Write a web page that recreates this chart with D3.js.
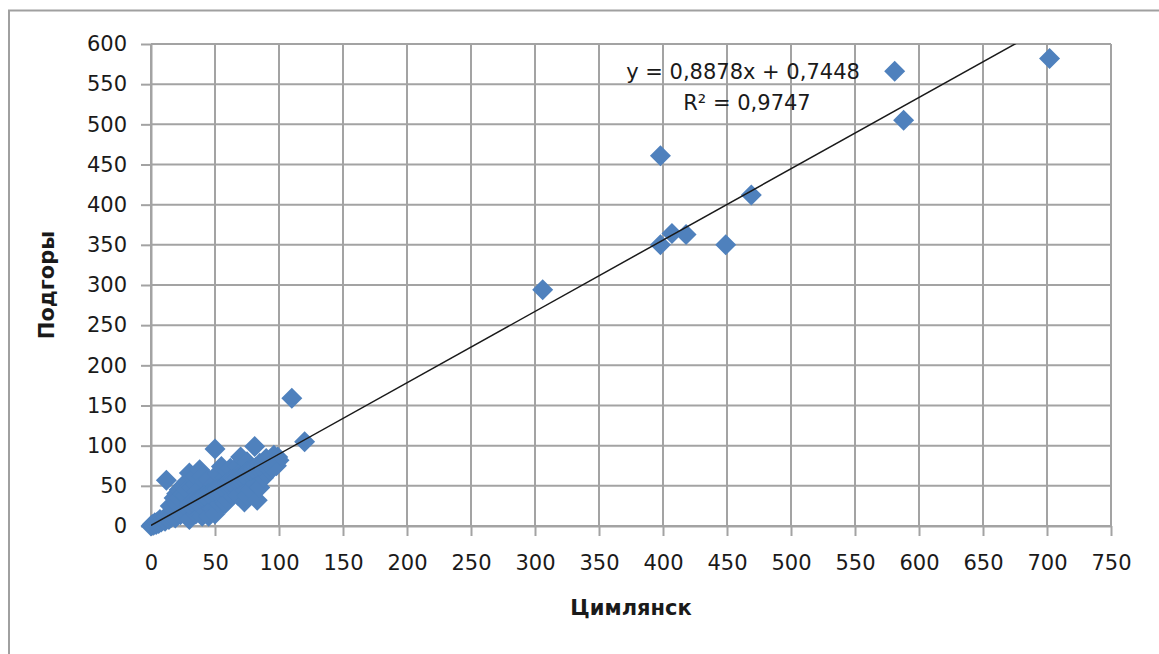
<!DOCTYPE html>
<html>
<head>
<meta charset="utf-8">
<script src="https://cdn.jsdelivr.net/npm/d3@7"></script>
<style>
  body { margin: 0; background: #fff; }
  svg text { font-family: "DejaVu Sans", sans-serif; fill: #1a1a1a; }
  .grid line { stroke: #a3a3a3; stroke-width: 2; }
  .axis path, .axis line { stroke: #a3a3a3; stroke-width: 2; }
</style>
</head>
<body>
<div id="chart"></div>
<script>
// Цимлянск (x) vs Подгоры (y)
var cimlyansk = [
  0, 1, 2, 3, 4, 5, 6, 7, 8, 9, 10, 11, 12, 13, 14, 15, 16, 17, 18, 19,
  20, 21, 22, 23, 24, 25, 26, 27, 28, 29,
  12, 15, 18, 20, 20, 22, 22, 25, 25, 27, 28, 28, 30, 32, 33, 35, 35, 36, 38, 40,
  42, 45, 48, 50, 52, 55, 58, 60, 62, 65, 68, 70, 72, 75, 78, 81, 85, 88, 90, 92,
  95, 96, 97, 99, 100, 98,
  30, 35, 40, 42, 45, 45, 48, 50, 50, 52, 55, 58, 60, 62, 65, 68, 70, 73, 75, 78,
  80, 83, 85, 88, 90, 93, 95,
  30, 32, 35, 38, 40, 42, 45, 48, 50, 52, 55, 58, 60, 62, 65, 68, 70, 72, 75, 78,
  80, 82, 85, 88, 90,
  110, 120, 306, 398, 398, 407, 418, 449, 469, 581, 588, 702
];
var podgory = [
  0, 2, 1, 4, 2, 5, 3, 8, 5, 7, 9, 6, 10, 12, 8, 13, 11, 15, 14, 10,
  18, 16, 20, 14, 22, 19, 24, 17, 26, 21,
  57, 25, 35, 28, 40, 45, 35, 50, 40, 38, 55, 45, 66, 48, 60, 52, 62, 42, 70, 62,
  55, 58, 50, 96, 65, 74, 60, 68, 72, 63, 75, 86, 70, 80, 72, 99, 78, 80, 84, 76,
  82, 88, 79, 86, 82, 75,
  8, 15, 12, 20, 25, 12, 22, 18, 15, 30, 35, 28, 32, 40, 45, 38, 50, 30, 37, 45,
  55, 32, 48, 60, 65, 70, 72,
  27, 30, 31, 34, 36, 38, 40, 43, 45, 46, 49, 52, 54, 55, 58, 60, 62, 64, 67, 69,
  71, 73, 75, 78, 80,
  159, 105, 294, 461, 350, 364, 363, 350, 412, 566, 505, 582
];
var xTicks = d3.range(0, 751, 50);
var yTicks = d3.range(0, 601, 50);
var slope = 0.8878, intercept = 0.7448;
var eqText = "y = 0,8878x + 0,7448";
var r2Text = "R² = 0,9747";

var width = 1159, height = 654;
var margin = {left: 151, top: 44, right: 48, bottom: 128};

var svg = d3.select("#chart").append("svg")
    .attr("width", width)
    .attr("height", height);

// outer frame
svg.append("rect")
    .attr("x", 9).attr("y", 10.5)
    .attr("width", width + 20).attr("height", height + 20)
    .attr("fill", "none")
    .attr("stroke", "#a0a0a0")
    .attr("stroke-width", 2);

var x = d3.scaleLinear().domain([0, 750]).range([margin.left, width - margin.right]);
var y = d3.scaleLinear().domain([0, 600]).range([height - margin.bottom, margin.top]);

// grid
var grid = svg.append("g").attr("class", "grid");
grid.selectAll("line.v").data(xTicks).enter().append("line")
    .attr("x1", function(d){ return x(d); }).attr("x2", function(d){ return x(d); })
    .attr("y1", y(0)).attr("y2", y(600));
grid.selectAll("line.h").data(yTicks).enter().append("line")
    .attr("x1", x(0)).attr("x2", x(750))
    .attr("y1", function(d){ return y(d); }).attr("y2", function(d){ return y(d); });

// axes
svg.append("g").attr("class", "axis")
    .attr("transform", "translate(0," + y(0) + ")")
    .call(d3.axisBottom(x).tickValues(xTicks).tickSize(10).tickSizeOuter(0).tickPadding(19))
    .selectAll("text").style("font-size", "21px");

svg.append("g").attr("class", "axis")
    .attr("transform", "translate(" + x(0) + ",0)")
    .call(d3.axisLeft(y).tickValues(yTicks).tickSize(10).tickSizeOuter(0).tickPadding(14))
    .selectAll("text").style("font-size", "21px");

// points
var pts = cimlyansk.map(function(v, i){ return [v, podgory[i]]; });
var r = 10.5;
svg.append("g").selectAll("path").data(pts).enter().append("path")
    .attr("d", "M0," + (-r) + "L" + r + ",0L0," + r + "L" + (-r) + ",0Z")
    .attr("transform", function(d){ return "translate(" + x(d[0]) + "," + y(d[1]) + ")"; })
    .attr("fill", "#4f81bd");

// trendline, clipped to plot area
svg.append("clipPath").attr("id", "plotclip").append("rect")
    .attr("x", x(0)).attr("y", y(600))
    .attr("width", x(750) - x(0)).attr("height", y(0) - y(600));
var xmin = d3.min(cimlyansk), xmax = d3.max(cimlyansk);
svg.append("line")
    .attr("clip-path", "url(#plotclip)")
    .attr("x1", x(xmin)).attr("y1", y(slope * xmin + intercept))
    .attr("x2", x(xmax)).attr("y2", y(slope * xmax + intercept))
    .attr("stroke", "#1a1a1a")
    .attr("stroke-width", 1.5);

// equation
svg.append("text").attr("x", 743).attr("y", 79)
    .attr("text-anchor", "middle").style("font-size", "21px").text(eqText);
svg.append("text").attr("x", 747).attr("y", 110)
    .attr("text-anchor", "middle").style("font-size", "21px").text(r2Text);

// axis titles
svg.append("text").attr("x", 631).attr("y", 615)
    .attr("text-anchor", "middle").style("font-size", "21px").style("font-weight", "bold")
    .text("Цимлянск");
svg.append("text")
    .attr("transform", "translate(54,285) rotate(-90)")
    .attr("text-anchor", "middle").style("font-size", "21px").style("font-weight", "bold")
    .text("Подгоры");
</script>
</body>
</html>
